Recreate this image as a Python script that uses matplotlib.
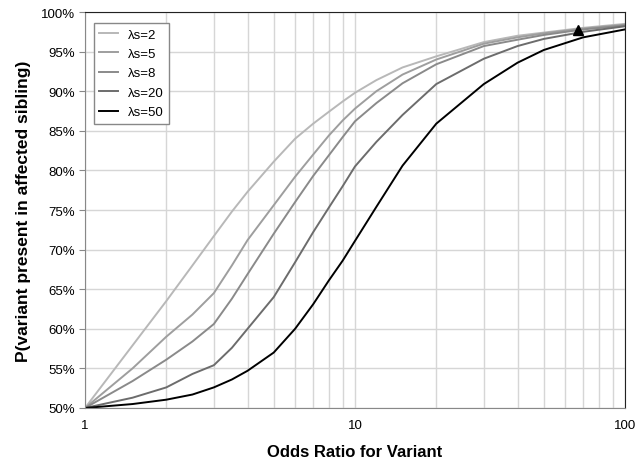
import numpy as np
import matplotlib
matplotlib.use("Agg")
import matplotlib.pyplot as plt
from matplotlib.ticker import FixedLocator, FuncFormatter, NullFormatter

plt.rcParams['font.family'] = ['Liberation Sans', 'DejaVu Sans']

# Odds ratio values where the curves were read
odds = [1, 1.5, 2, 2.5, 3, 3.5, 4, 5, 6, 7, 8, 9, 10, 12, 15, 20, 30, 40, 50, 70, 100]

# P(variant present in affected sibling), in %
ls2 = [50, 57.9, 63.5, 68.0, 71.7, 74.8, 77.3, 81.1, 84.0, 85.9, 87.4, 88.7, 89.8,
       91.4, 93.0, 94.4, 96.2, 97.0, 97.4, 98.0, 98.5]
ls5 = [50, 55.0, 59.0, 61.8, 64.5, 68.0, 71.2, 75.6, 79.2, 82.0, 84.4, 86.3, 87.8,
       90.0, 92.1, 94.0, 96.0, 96.8, 97.3, 97.9, 98.4]
ls8 = [50, 53.4, 56.1, 58.4, 60.6, 63.8, 66.9, 72.0, 76.0, 79.3, 81.9, 84.2, 86.2,
       88.5, 91.0, 93.4, 95.7, 96.5, 97.1, 97.8, 98.3]
ls20 = [50, 51.3, 52.6, 54.3, 55.4, 57.6, 60.0, 64.0, 68.4, 72.2, 75.3, 78.0, 80.5,
        83.6, 87.0, 90.9, 94.1, 95.7, 96.6, 97.5, 98.2]
ls50 = [50, 50.5, 51.05, 51.7, 52.6, 53.6, 54.7, 57.0, 60.0, 63.1, 66.1, 68.6, 71.1,
        75.4, 80.6, 85.9, 90.9, 93.6, 95.2, 96.8, 97.8]

series = [ls2, ls5, ls8, ls20, ls50]
labels = ['\u03bbs=2', '\u03bbs=5', '\u03bbs=8', '\u03bbs=20', '\u03bbs=50']
colours = ['#b8b8b8', '#9e9e9e', '#8a8a8a', '#6c6c6c', '#000000']

# marked point
marker_x = [67]
marker_y = [97.7]

fig = plt.figure(figsize=(6.42, 4.6), dpi=100)
ax = fig.add_axes([85 / 642, 1 - 409 / 460, 540 / 642, 396 / 460])

for vals, lab, col in zip(series, labels, colours):
    ax.plot(odds, vals, color=col, lw=1.4, label=lab)
ax.plot(marker_x, marker_y, '^', color='black', ms=6.5, zorder=5)

ax.set_xscale('log')
ax.set_xlim(1, 100)
ax.set_ylim(50, 100)
ax.xaxis.set_major_locator(FixedLocator([1, 10, 100]))
ax.xaxis.set_minor_locator(FixedLocator([k * 10 ** d for d in range(2) for k in range(2, 10)]))
ax.xaxis.set_major_formatter(FuncFormatter(lambda v, p: '%d' % v))
ax.xaxis.set_minor_formatter(NullFormatter())
ax.set_yticks(np.arange(50, 101, 5))
ax.yaxis.set_major_formatter(FuncFormatter(lambda v, p: '%d%%' % v))

ax.grid(True, which='both', axis='x', color='#d6d6d6', lw=1)
ax.grid(True, which='major', axis='y', color='#d6d6d6', lw=1)
ax.set_axisbelow(True)

for s in ['top', 'right']:
    ax.spines[s].set_color('#222222')
for s in ['left', 'bottom']:
    ax.spines[s].set_color('#888888')
ax.tick_params(axis='both', which='major', labelsize=9.5, color='#888888')
ax.tick_params(axis='y', length=4, pad=3)
ax.tick_params(axis='x', which='major', length=0, pad=8)
ax.tick_params(axis='x', which='minor', length=0)

ax.set_xlabel('Odds Ratio for Variant', fontsize=12, fontweight='bold', labelpad=9)
ax.set_ylabel('P(variant present in affected sibling)', fontsize=12.5, fontweight='bold', labelpad=7)

leg = ax.legend(loc='upper left', bbox_to_anchor=(9 / 540, 1 - 11 / 396), borderaxespad=0,
                fontsize=9.5, handlelength=1.4, labelspacing=0.55, fancybox=False,
                framealpha=1, edgecolor='#888888')
leg.get_frame().set_linewidth(1)

fig.savefig('out.png', dpi=100)
